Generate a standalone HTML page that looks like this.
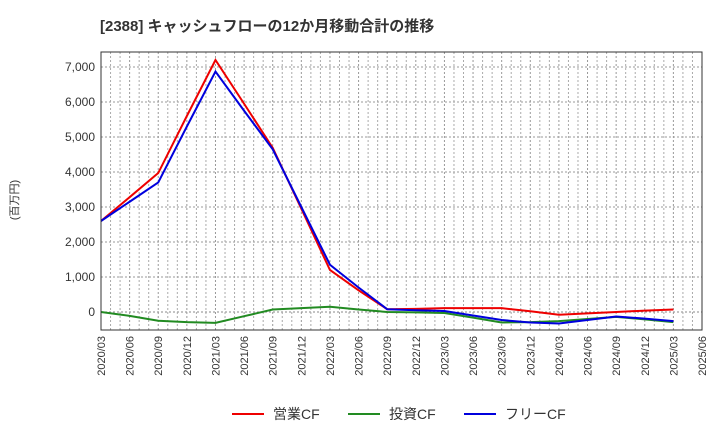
<!DOCTYPE html>
<html><head><meta charset="utf-8"><style>
body{margin:0;background:#fff;font-family:"Liberation Sans","Noto Sans CJK JP",sans-serif;}
</style></head><body>
<svg id="c" width="720" height="440" xmlns="http://www.w3.org/2000/svg">
<text x="100" y="31" font-size="15" font-weight="bold" fill="#333">[2388]  キャッシュフローの12か月移動合計の推移</text>
<text transform="translate(18,200) rotate(-90)" font-size="11" fill="#333" text-anchor="middle">(百万円)</text>
<g id="grid"></g><g id="series"></g>
<rect x="101" y="52" width="601" height="278" fill="none" stroke="#333"/>
<g font-size="14" fill="#333">
<line x1="232" y1="414" x2="264" y2="414" stroke="#e00" stroke-width="2"/><text x="273" y="419">営業CF</text>
<line x1="348" y1="414" x2="380" y2="414" stroke="#228b22" stroke-width="2"/><text x="389" y="419">投資CF</text>
<line x1="464" y1="414" x2="496" y2="414" stroke="#00d" stroke-width="2"/><text x="505" y="419">フリーCF</text>
</g>
</svg>
<script>
const xLabels=["2020/03","2020/06","2020/09","2020/12","2021/03","2021/06","2021/09","2021/12","2022/03","2022/06","2022/09","2022/12","2023/03","2023/06","2023/09","2023/12","2024/03","2024/06","2024/09","2024/12","2025/03","2025/06"];
const yTicks=[0,1000,2000,3000,4000,5000,6000,7000];
const opCF=[2600,3280,3970,5600,7200,5950,4690,2950,1200,620,80,90,110,110,110,20,-80,-40,0,40,70];
const invCF=[0,-110,-250,-290,-310,-120,70,110,150,70,0,-10,-30,-160,-300,-290,-260,-200,-140,-210,-290];
const freeCF=[2600,3150,3700,5300,6870,5750,4650,3000,1350,700,80,50,30,-100,-230,-300,-330,-230,-130,-190,-260];
const X0=101,X1=702,Y0=312,PX=35/1000;
const xs=i=>X0+i*(X1-X0)/(xLabels.length-1);
const ys=v=>Y0-v*PX;
const NS="http://www.w3.org/2000/svg";
const g=document.getElementById('grid'),s=document.getElementById('series');
function mk(tag,a,p){const e=document.createElementNS(NS,tag);for(const k in a)e.setAttribute(k,a[k]);p.appendChild(e);return e;}
yTicks.forEach(v=>{
 const l=mk('line',{x1:X0,x2:X1,y1:ys(v),y2:ys(v),stroke:v===0?'#888':'#999','stroke-dasharray':'2,2'},g);
 
 
 const t=mk('text',{x:X0-6,y:ys(v)+4,'font-size':12,'text-anchor':'end',fill:'#333'},g);
 t.textContent=v.toLocaleString('en-US');
 
 
});
const step=(X1-X0)/(xLabels.length-1);
for(let m=1;m<(xLabels.length-1)*3;m++){
 if(m%3===0)continue;
 const x=X0+m*step/3;
 const l=mk('line',{x1:x,x2:x,y1:52,y2:330,stroke:'#aaa','stroke-dasharray':'2,2'},g);
 
 
}
xLabels.forEach((lab,i)=>{
 const x=xs(i);
 const l=mk('line',{x1:x,x2:x,y1:52,y2:330,stroke:'#999','stroke-dasharray':'2,2'},g);
 
 
 const t=mk('text',{transform:`translate(${x+4},336) rotate(-90)`,'font-size':11,'text-anchor':'end',fill:'#333'},g);
 t.textContent=lab;
 
 
});
[[opCF,'#e00','operating-cf-line'],[invCF,'#228b22','investing-cf-line'],[freeCF,'#00d','free-cf-line']].forEach(([d,c,n])=>{
 const p=mk('polyline',{points:d.map((v,i)=>xs(i)+','+ys(v)).join(' '),fill:'none',stroke:c,'stroke-width':2},s);
 
 
});
</script>
</body></html>
